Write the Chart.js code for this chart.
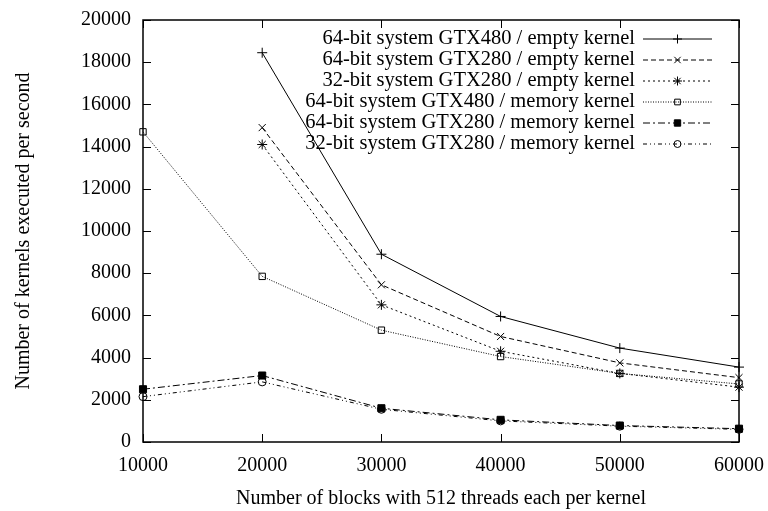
<!DOCTYPE html>
<html>
<head>
<meta charset="utf-8">
<script src="https://cdn.jsdelivr.net/npm/chart.js@4"></script>
<style>
  html, body { margin: 0; padding: 0; background: #fff; }
  #wrap { width: 768px; height: 511px; }
</style>
</head>
<body>
<div id="wrap"><canvas id="chart" width="768" height="511"></canvas></div>
<script>
const blocks = [10000, 20000, 30000, 40000, 50000, 60000];

const gtx480Empty64 = [null, 18450, 8900, 5950, 4450, 3550];
const gtx280Empty64 = [null, 14900, 7450, 5000, 3750, 3050];
const gtx280Empty32 = [null, 14100, 6500, 4300, 3250, 2600];
const gtx480Memory64 = [14700, 7850, 5300, 4050, 3250, 2750];
const gtx280Memory64 = [2500, 3150, 1600, 1050, 780, 630];
const gtx280Memory32 = [2150, 2850, 1550, 1000, 750, 600];

const seriesLabels = [
  '64-bit system GTX480 / empty kernel',
  '64-bit system GTX280 / empty kernel',
  '32-bit system GTX280 / empty kernel',
  '64-bit system GTX480 / memory kernel',
  '64-bit system GTX280 / memory kernel',
  '32-bit system GTX280 / memory kernel'
];

const yTicks = [0, 2000, 4000, 6000, 8000, 10000, 12000, 14000, 16000, 18000, 20000];

const FONT = '"Liberation Serif", "DejaVu Serif", serif';

function series(i, values, dash, pointStyle, filled, radius) {
  return {
    label: seriesLabels[i],
    data: values,
    borderColor: '#000',
    borderWidth: 1,
    borderDash: dash,
    pointStyle: pointStyle,
    pointRadius: radius,
    pointBorderWidth: 1,
    pointBorderColor: '#000',
    pointBackgroundColor: filled ? '#000' : 'rgba(0,0,0,0)',
    fill: false,
    tension: 0,
    spanGaps: false
  };
}

const datasets = [
  series(0, gtx480Empty64, [], 'cross', false, 5),
  series(1, gtx280Empty64, [5, 3], 'crossRot', false, 5),
  series(2, gtx280Empty32, [2, 3], 'star', false, 5),
  series(3, gtx480Memory64, [1, 1.5], 'rect', false, 4.5),
  series(4, gtx280Memory64, [7, 3, 2, 3], 'rect', true, 5),
  series(5, gtx280Memory32, [4, 3, 1, 3, 1, 3], 'circle', false, 4)
];

// gnuplot style frame with inward ticks and right aligned legend
const framePlugin = {
  id: 'frame',
  afterDatasetsDraw(chart) {
    const { ctx, chartArea: a, scales } = chart;
    ctx.save();
    ctx.strokeStyle = '#000';
    ctx.lineWidth = 1.5;
    ctx.setLineDash([]);
    ctx.strokeRect(a.left, a.top, a.right - a.left, a.bottom - a.top);
    ctx.lineWidth = 1;
    const t = 8;
    scales.x.ticks.forEach((tk, i) => {
      const x = Math.round(scales.x.getPixelForTick(i)) + 0.5;
      ctx.beginPath();
      ctx.moveTo(x, a.bottom); ctx.lineTo(x, a.bottom - t);
      ctx.moveTo(x, a.top); ctx.lineTo(x, a.top + t);
      ctx.stroke();
    });
    scales.y.ticks.forEach((tk, i) => {
      const y = Math.round(scales.y.getPixelForTick(i)) + 0.5;
      ctx.beginPath();
      ctx.moveTo(a.left, y); ctx.lineTo(a.left + t, y);
      ctx.moveTo(a.right, y); ctx.lineTo(a.right - t, y);
      ctx.stroke();
    });

    // legend
    ctx.font = '20.5px ' + FONT;
    ctx.textAlign = 'right';
    ctx.textBaseline = 'middle';
    const textRight = 635, x0 = 643, x1 = 712, rowH = 21, y0 = 39;
    chart.data.datasets.forEach((ds, i) => {
      const y = y0 + i * rowH;
      ctx.fillStyle = '#000';
      ctx.fillText(ds.label, textRight, y);
      ctx.save();
      ctx.lineWidth = ds.borderWidth;
      ctx.setLineDash(ds.borderDash);
      ctx.beginPath();
      ctx.moveTo(x0, y); ctx.lineTo(x1, y);
      ctx.stroke();
      ctx.restore();
      ctx.save();
      ctx.setLineDash([]);
      ctx.fillStyle = ds.pointBackgroundColor;
      ctx.strokeStyle = '#000';
      ctx.lineWidth = 1;
      Chart.helpers.drawPoint(ctx, {
        pointStyle: ds.pointStyle,
        radius: ds.pointRadius - 0.5,
        borderWidth: 1,
        rotation: 0
      }, (x0 + x1) / 2, y);
      ctx.restore();
    });
    ctx.restore();
  }
};

new Chart(document.getElementById('chart'), {
  type: 'line',
  data: { labels: blocks, datasets: datasets },
  options: {
    responsive: false,
    animation: false,
    layout: { padding: { top: 20, right: 29, left: 0, bottom: 0 } },
    plugins: {
      legend: { display: false },
      tooltip: { enabled: false }
    },
    scales: {
      x: {
        type: 'category',
        offset: false,
        grid: { display: false, drawTicks: false },
        border: { display: false },
        ticks: {
          color: '#000',
          font: { family: FONT, size: 20 },
          padding: 12,
          maxRotation: 0,
          autoSkip: false
        },
        title: {
          display: true,
          text: 'Number of blocks with 512 threads each per kernel',
          color: '#000',
          font: { family: FONT, size: 20 },
          padding: { top: 10, bottom: 0 }
        },
        afterFit(scale) {
          scale.height = 69;
          scale.paddingLeft = 0;
          scale.paddingRight = 0;
        }
      },
      y: {
        min: 0,
        max: 20000,
        grid: { display: false, drawTicks: false },
        border: { display: false },
        afterBuildTicks(scale) { scale.ticks = yTicks.map(v => ({ value: v })); },
        ticks: {
          color: '#000',
          font: { family: FONT, size: 20 },
          padding: 12,
          callback: v => String(v)
        },
        title: {
          display: true,
          text: 'Number of kernels executed per second',
          color: '#000',
          font: { family: FONT, size: 20 },
          padding: { top: 12, bottom: 6 }
        },
        afterFit(scale) {
          scale.width = 143;
          scale.paddingTop = 0;
          scale.paddingBottom = 0;
        }
      }
    }
  },
  plugins: [framePlugin]
});
</script>
</body>
</html>
